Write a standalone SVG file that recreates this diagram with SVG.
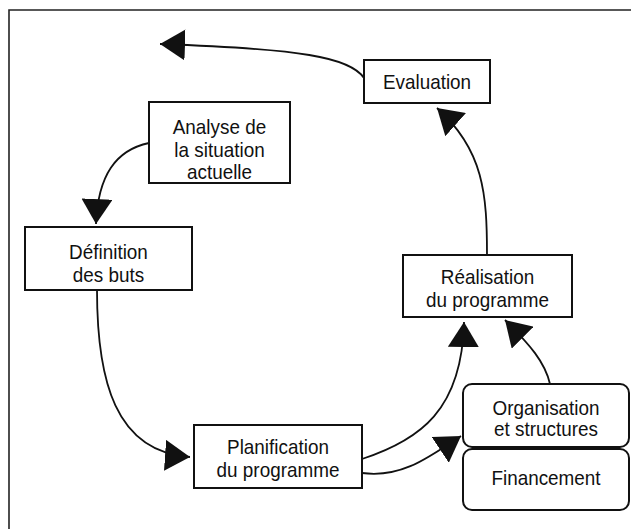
<svg xmlns="http://www.w3.org/2000/svg" width="631" height="529" viewBox="0 0 631 529">
<style>
.box{fill:#fff;stroke:#111;stroke-width:2}
.lbl{font-family:"Liberation Sans",Arial,sans-serif;font-size:21px;fill:#111;text-anchor:middle}
.con{fill:none;stroke:#111;stroke-width:1.8}
.frame{fill:none;stroke:#222;stroke-width:1.6}
</style>
<defs>
<marker id="ah" markerUnits="userSpaceOnUse" viewBox="0 0 25 31" markerWidth="25" markerHeight="31" refX="25" refY="15.5" orient="auto">
<path d="M0,0 L25,15.5 L0,31 Z" fill="#111"/>
</marker>
</defs>
<rect width="631" height="529" fill="#fff"/>
<path class="frame" d="M9,529 L9,10 L631,10"/>
<g id="connectors">
<path class="con" d="M364,78 C350,57 300,49 160,44" marker-end="url(#ah)"/>
<path class="con" d="M149,143 C116,150 98,175 96,224" marker-end="url(#ah)"/>
<path class="con" d="M97,290 C97,380 115,452 190,457" marker-end="url(#ah)"/>
<path class="con" d="M362,459 C420,440 462,410 464,322" marker-end="url(#ah)"/>
<path class="con" d="M362,473 C400,478 425,460 461,436" marker-end="url(#ah)"/>
<path class="con" d="M550,384 C545,362 530,345 505,320" marker-end="url(#ah)"/>
<path class="con" d="M487,255 C487,195 484,150 437,108" marker-end="url(#ah)"/>
</g>
<g id="evaluation">
<rect class="box" x="364" y="60" width="126" height="43"/>
<g transform="translate(427,0) scale(0.9,1)">
<text class="lbl" x="0" y="89.5">Evaluation</text>
</g>
</g>
<g id="analyse">
<rect class="box" x="149" y="102" width="141" height="81"/>
<g transform="translate(219.5,0) scale(0.9,1)">
<text class="lbl" x="0" y="134.5">Analyse de</text>
<text class="lbl" x="0" y="157">la situation</text>
<text class="lbl" x="0" y="179.5">actuelle</text>
</g>
</g>
<g id="definition">
<rect class="box" x="25" y="227" width="167" height="63"/>
<g transform="translate(108.5,0) scale(0.9,1)">
<text class="lbl" x="0" y="259.5">Définition</text>
<text class="lbl" x="0" y="282.5">des buts</text>
</g>
</g>
<g id="realisation">
<rect class="box" x="403" y="255" width="169" height="62"/>
<g transform="translate(487.5,0) scale(0.9,1)">
<text class="lbl" x="0" y="284.5">Réalisation</text>
<text class="lbl" x="0" y="307.5">du programme</text>
</g>
</g>
<g id="planification">
<rect class="box" x="194" y="425" width="168" height="63"/>
<g transform="translate(278,0) scale(0.9,1)">
<text class="lbl" x="0" y="454.5">Planification</text>
<text class="lbl" x="0" y="477.5">du programme</text>
</g>
</g>
<g id="organisation">
<rect class="box" x="463" y="384" width="166" height="63" rx="9"/>
<g transform="translate(546,0) scale(0.9,1)">
<text class="lbl" x="0" y="415">Organisation</text>
<text class="lbl" x="0" y="436">et structures</text>
</g>
</g>
<g id="financement">
<rect class="box" x="463" y="449" width="166" height="61" rx="9"/>
<g transform="translate(546,0) scale(0.9,1)">
<text class="lbl" x="0" y="485.5">Financement</text>
</g>
</g>
</svg>
